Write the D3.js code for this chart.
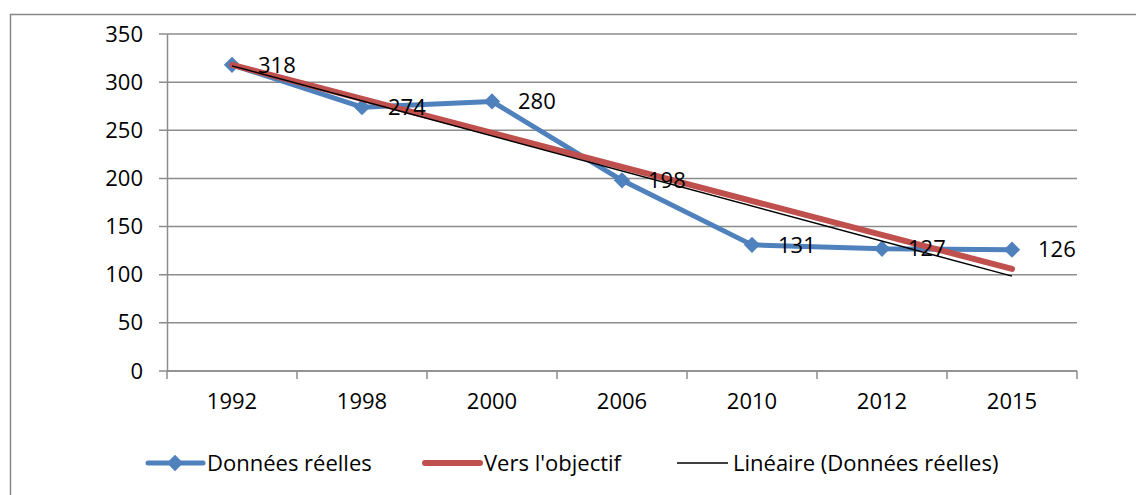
<!DOCTYPE html>
<html>
<head>
<meta charset="utf-8">
<script src="https://cdnjs.cloudflare.com/ajax/libs/d3/7.8.5/d3.min.js"></script>
<style>
  body { margin: 0; background: #fff; }
  svg text { font-family: "Open Sans", Lato, sans-serif; fill: #000; }
</style>
</head>
<body>
<svg id="chart" width="1136" height="495"></svg>
<script>
// données
const years = ['1992', '1998', '2000', '2006', '2010', '2012', '2015']
const reelles = [318, 274, 280, 198, 131, 127, 126]
const objectif = [318, null, null, null, null, null, 106] // droite de 1992 à 2015
const yTicks = [0, 50, 100, 150, 200, 250, 300, 350]
const seriesNames = ['Données réelles', "Vers l'objectif", 'Linéaire (Données réelles)']

const width = 1136
const height = 495
const margin = { top: 34, right: 59, bottom: 124, left: 167 }
const fontSize = 22

const svg = d3.select('#chart')

// cadre extérieur
svg.append('rect')
  .attr('x', 10.5).attr('y', 14.5)
  .attr('width', width + 20).attr('height', height + 20)
  .attr('fill', 'none')
  .attr('stroke', '#888')
  .attr('stroke-width', 1.5)

const x = d3.scaleBand()
  .domain(years)
  .range([margin.left, width - margin.right])
const y = d3.scaleLinear()
  .domain([0, 350])
  .range([height - margin.bottom, margin.top])

const cx = d => x(d) + x.bandwidth() / 2

// grille horizontale
svg.append('g')
  .selectAll('line')
  .data(yTicks)
  .join('line')
  .attr('x1', margin.left - 8)
  .attr('x2', width - margin.right)
  .attr('y1', d => y(d))
  .attr('y2', d => y(d))
  .attr('stroke', '#8c8c8c')
  .attr('stroke-width', 1.5)

// axe Y
const yAxis = svg.append('g')
  .attr('transform', `translate(${margin.left},0)`)
  .call(d3.axisLeft(y).tickValues(yTicks).tickSize(0).tickPadding(24))
yAxis.select('.domain').attr('stroke', '#8c8c8c').attr('stroke-width', 1.5)
yAxis.selectAll('text').attr('font-size', fontSize).attr('font-family', '"Open Sans"')

// axe X, graduations entre les catégories
const xBase = y(0)
svg.append('line')
  .attr('x1', margin.left).attr('x2', width - margin.right)
  .attr('y1', xBase).attr('y2', xBase)
  .attr('stroke', '#8c8c8c').attr('stroke-width', 1.5)
const boundaries = years.map(d => x(d)).concat([x(years[years.length - 1]) + x.bandwidth()])
svg.append('g')
  .selectAll('line')
  .data(boundaries)
  .join('line')
  .attr('x1', d => d).attr('x2', d => d)
  .attr('y1', xBase).attr('y2', xBase + 8)
  .attr('stroke', '#8c8c8c').attr('stroke-width', 1.5)
svg.append('g')
  .selectAll('text')
  .data(years)
  .join('text')
  .attr('x', d => cx(d))
  .attr('y', xBase + 38)
  .attr('text-anchor', 'middle')
  .attr('font-size', fontSize)
  .text(d => d)

// série réelle
const pts = years.map((d, i) => ({ x: cx(d), y: y(reelles[i]), v: reelles[i] }))
svg.append('path')
  .datum(pts)
  .attr('d', d3.line().x(d => d.x).y(d => d.y))
  .attr('fill', 'none')
  .attr('stroke', '#4f81bd')
  .attr('stroke-width', 5)
  .attr('stroke-linejoin', 'round')

const diamond = d3.symbol().type(d3.symbolDiamond2).size(170)
svg.append('g')
  .selectAll('path')
  .data(pts)
  .join('path')
  .attr('d', diamond)
  .attr('transform', d => `translate(${d.x},${d.y})`)
  .attr('fill', '#4f81bd')

// vers l'objectif
const objPts = years.map((d, i) => ({ x: cx(d), v: objectif[i] })).filter(d => d.v !== null)
svg.append('path')
  .datum(objPts)
  .attr('d', d3.line().x(d => d.x).y(d => y(d.v)))
  .attr('fill', 'none')
  .attr('stroke', '#c0504d')
  .attr('stroke-width', 6)
  .attr('stroke-linecap', 'round')

// tendance linéaire (moindres carrés)
const idx = reelles.map((d, i) => i + 1)
const mx = d3.mean(idx)
const my = d3.mean(reelles)
const slope = d3.sum(idx, (d, i) => (d - mx) * (reelles[i] - my)) / d3.sum(idx, d => (d - mx) * (d - mx))
const intercept = my - slope * mx
const trend = [years[0], years[years.length - 1]].map(d => {
  const i = years.indexOf(d) + 1
  return { x: cx(d), v: intercept + slope * i }
})
svg.append('path')
  .datum(trend)
  .attr('d', d3.line().x(d => d.x).y(d => y(d.v)))
  .attr('fill', 'none')
  .attr('stroke', '#000')
  .attr('stroke-width', 1.5)

// étiquettes
svg.append('g')
  .selectAll('text')
  .data(pts)
  .join('text')
  .attr('x', d => d.x + 26)
  .attr('y', d => d.y)
  .attr('dy', '0.35em')
  .attr('font-size', fontSize)
  .text(d => d.v)

// légende
const ly = 463
const legend = svg.append('g')
const l1 = 148
legend.append('line').attr('x1', l1).attr('x2', l1 + 55).attr('y1', ly).attr('y2', ly)
  .attr('stroke', '#4f81bd').attr('stroke-width', 5).attr('stroke-linecap', 'round')
legend.append('path').attr('d', diamond).attr('transform', `translate(${l1 + 27},${ly})`).attr('fill', '#4f81bd')
legend.append('text').attr('x', l1 + 59).attr('y', ly).attr('dy', '0.35em').attr('font-size', fontSize).text(seriesNames[0])
const l2 = 425
legend.append('line').attr('x1', l2).attr('x2', l2 + 55).attr('y1', ly).attr('y2', ly)
  .attr('stroke', '#c0504d').attr('stroke-width', 6).attr('stroke-linecap', 'round')
legend.append('text').attr('x', l2 + 59).attr('y', ly).attr('dy', '0.35em').attr('font-size', fontSize).text(seriesNames[1])
const l3 = 677
legend.append('line').attr('x1', l3).attr('x2', l3 + 51).attr('y1', ly).attr('y2', ly)
  .attr('stroke', '#000').attr('stroke-width', 1.5)
legend.append('text').attr('x', l3 + 56).attr('y', ly).attr('dy', '0.35em').attr('font-size', fontSize).text(seriesNames[2])
</script>
</body>
</html>
